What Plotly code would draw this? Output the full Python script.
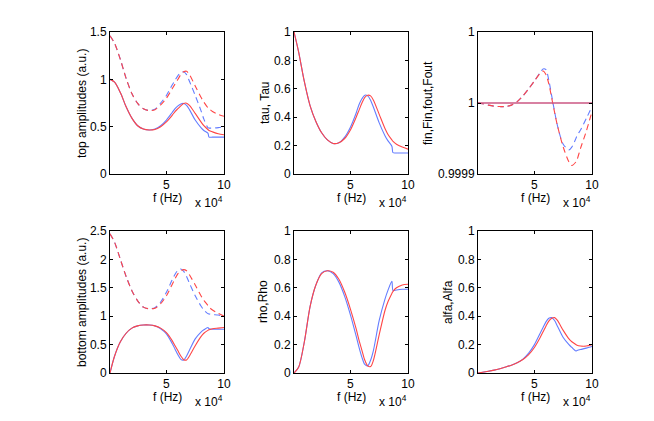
import plotly.graph_objects as go

# frequency samples (Hz)
f = [1000, 5000, 10000, 15000, 20000, 25000, 30000, 35000, 40000, 45000, 50000,
     55000, 57500, 60000, 62500, 65000, 67500, 70000, 75000, 80000, 82500,
     86000, 87000, 90000, 95000, 100000]

# top amplitudes
top_solid_b = [1.0, 0.97, 0.86, 0.71, 0.59, 0.51, 0.475, 0.465, 0.475, 0.51, 0.57,
               0.65, 0.69, 0.72, 0.74, 0.745, 0.725, 0.68, 0.57, 0.49, 0.46,
               0.432, 0.39, 0.39, 0.39, 0.39]
top_solid_r = [1.0, 0.97, 0.86, 0.71, 0.59, 0.51, 0.475, 0.465, 0.47, 0.50, 0.55,
               0.62, 0.66, 0.69, 0.72, 0.745, 0.748, 0.725, 0.64, 0.55, 0.51,
               0.47, 0.46, 0.445, 0.425, 0.415]
top_dash_b = [1.46, 1.38, 1.21, 1.01, 0.85, 0.745, 0.69, 0.67, 0.685, 0.75, 0.83,
              0.94, 0.99, 1.04, 1.07, 1.08, 1.05, 0.98, 0.83, 0.67, 0.58,
              0.49, 0.485, 0.485, 0.49, 0.50]
top_dash_r = [1.46, 1.38, 1.21, 1.01, 0.85, 0.745, 0.69, 0.67, 0.68, 0.73, 0.80,
              0.90, 0.95, 1.0, 1.05, 1.08, 1.085, 1.05, 0.93, 0.81, 0.76,
              0.70, 0.69, 0.66, 0.63, 0.61]

# tau, Tau
tau_b = [1.0, 0.86, 0.65, 0.48, 0.37, 0.29, 0.24, 0.215, 0.22, 0.26, 0.33,
         0.43, 0.49, 0.53, 0.555, 0.55, 0.52, 0.47, 0.36, 0.27, 0.235,
         0.195, 0.15, 0.148, 0.148, 0.148]
tau_r = [1.0, 0.86, 0.65, 0.48, 0.37, 0.29, 0.24, 0.215, 0.22, 0.25, 0.31,
         0.40, 0.45, 0.50, 0.54, 0.555, 0.55, 0.52, 0.42, 0.32, 0.28,
         0.24, 0.23, 0.21, 0.19, 0.175]

# fin, Fin (dashed) and fout, Fout (solid), deviation from 1 in units of 1e-4
fin_b = [0.0, -0.01, -0.03, -0.045, -0.05, -0.05, -0.03, 0.02, 0.1, 0.2, 0.31,
         0.43, 0.48, 0.47, 0.32, 0.1, -0.12, -0.32, -0.58, -0.66, -0.62,
         -0.5, -0.46, -0.38, -0.22, -0.05]
fin_r = [0.0, -0.01, -0.03, -0.045, -0.05, -0.05, -0.03, 0.02, 0.1, 0.2, 0.31,
         0.42, 0.45, 0.40, 0.27, 0.07, -0.13, -0.32, -0.62, -0.83, -0.88,
         -0.83, -0.80, -0.64, -0.40, -0.12]
fout = [0.0] * len(f)

# bottom amplitudes
bot_solid_b = [0.0, 0.3, 0.55, 0.70, 0.79, 0.83, 0.845, 0.845, 0.83, 0.78, 0.69,
               0.52, 0.42, 0.32, 0.24, 0.23, 0.30, 0.40, 0.60, 0.72, 0.76,
               0.80, 0.78, 0.77, 0.77, 0.77]
bot_solid_r = [0.0, 0.3, 0.55, 0.70, 0.79, 0.83, 0.845, 0.845, 0.83, 0.79, 0.71,
               0.57, 0.48, 0.39, 0.30, 0.235, 0.23, 0.30, 0.48, 0.64, 0.70,
               0.75, 0.76, 0.78, 0.79, 0.80]
bot_dash_b = [2.45, 2.3, 2.0, 1.7, 1.45, 1.27, 1.16, 1.13, 1.15, 1.25, 1.42,
              1.64, 1.74, 1.81, 1.83, 1.79, 1.70, 1.58, 1.36, 1.18, 1.11,
              1.045, 1.04, 1.03, 1.02, 1.0]
bot_dash_r = [2.45, 2.3, 2.0, 1.7, 1.45, 1.27, 1.16, 1.13, 1.14, 1.22, 1.36,
              1.56, 1.66, 1.75, 1.80, 1.82, 1.80, 1.73, 1.55, 1.36, 1.28,
              1.19, 1.16, 1.11, 1.05, 1.0]

# rho, Rho
rho_b = [0.0, 0.04, 0.22, 0.47, 0.62, 0.705, 0.72, 0.70, 0.64, 0.54, 0.41,
         0.26, 0.18, 0.11, 0.06, 0.05, 0.09, 0.16, 0.37, 0.52, 0.58,
         0.645, 0.58, 0.585, 0.59, 0.59]
rho_r = [0.0, 0.04, 0.22, 0.47, 0.62, 0.70, 0.72, 0.71, 0.66, 0.57, 0.45,
         0.31, 0.23, 0.16, 0.09, 0.05, 0.045, 0.09, 0.27, 0.44, 0.50,
         0.56, 0.575, 0.60, 0.62, 0.625]

# alfa, Alfa
alfa_b = [0.0, 0.005, 0.012, 0.02, 0.03, 0.042, 0.055, 0.072, 0.098, 0.14, 0.20,
          0.28, 0.32, 0.36, 0.385, 0.39, 0.37, 0.33, 0.25, 0.20, 0.18,
          0.155, 0.158, 0.165, 0.175, 0.187]
alfa_r = [0.0, 0.005, 0.012, 0.02, 0.03, 0.042, 0.055, 0.072, 0.095, 0.13, 0.18,
          0.25, 0.29, 0.33, 0.365, 0.385, 0.39, 0.37, 0.30, 0.24, 0.22,
          0.20, 0.195, 0.19, 0.19, 0.20]

ylabels = ["top amplitudes (a.u.)", "tau, Tau", "fin,Fin,fout,Fout",
           "bottom amplitudes (a.u.)", "rho,Rho", "alfa,Alfa"]

BLUE = "rgb(100,125,255)"
RED = "rgb(255,70,70)"
W, H = 654, 421

# axes boxes in pixels (left, right, top, bottom)
cols = [(110, 224), (294, 408), (478, 592)]
rows = [(32, 174), (231, 373)]

fig = go.Figure()
font = dict(family="Liberation Sans, Arial, sans-serif", size=12, color="black")


def add(i, y, color, dash="solid"):
    fig.add_trace(go.Scatter(x=f, y=y, mode="lines", xaxis="x%d" % (i + 1) if i else "x",
                             yaxis="y%d" % (i + 1) if i else "y",
                             line=dict(color=color, width=1.1, dash=dash, shape="spline", smoothing=0.8),
                             showlegend=False, hoverinfo="skip"))


DASH = "6px,4px"
add(0, top_dash_b, BLUE, DASH)
add(0, top_dash_r, RED, DASH)
add(0, top_solid_b, BLUE)
add(0, top_solid_r, RED)
add(1, tau_b, BLUE)
add(1, tau_r, RED)
add(2, [1 + v * 1e-4 for v in fin_b], BLUE, DASH)
add(2, [1 + v * 1e-4 for v in fin_r], RED, DASH)
add(2, [1 + v * 1e-4 for v in fout], BLUE)
add(2, [1 + v * 1e-4 for v in fout], RED)
add(3, bot_dash_b, BLUE, DASH)
add(3, bot_dash_r, RED, DASH)
add(3, bot_solid_b, BLUE)
add(3, bot_solid_r, RED)
add(4, rho_b, BLUE)
add(4, rho_r, RED)
add(5, alfa_b, BLUE)
add(5, alfa_r, RED)

yranges = [[0, 1.5], [0, 1], [0.9999, 1.0001], [0, 2.5], [0, 1], [0, 1]]
yticks = [[0, 0.5, 1, 1.5], [0, 0.2, 0.4, 0.6, 0.8, 1], [0.9999, 1, 1.0001],
          [0, 0.5, 1, 1.5, 2, 2.5], [0, 0.2, 0.4, 0.6, 0.8, 1], [0, 0.2, 0.4, 0.6, 0.8, 1]]
ytext = [["0", "0.5", "1", "1.5"], ["0", "0.2", "0.4", "0.6", "0.8", "1"],
         ["0.9999", "1", "1"], ["0", "0.5", "1", "1.5", "2", "2.5"],
         ["0", "0.2", "0.4", "0.6", "0.8", "1"], ["0", "0.2", "0.4", "0.6", "0.8", "1"]]

annotations = []
for i in range(6):
    r, c = divmod(i, 3)
    x0, x1 = cols[c]
    t, b = rows[r]
    sfx = str(i + 1) if i else ""
    axstyle = dict(showline=True, linecolor="black", linewidth=1, mirror="ticks",
                   ticks="inside", ticklen=3, tickcolor="black", showgrid=False,
                   zeroline=False, tickfont=font, automargin=False)
    fig.layout["xaxis" + sfx] = dict(domain=[x0 / W, x1 / W], range=[1000, 100000],
                                     anchor="y" + sfx, tickvals=[50000, 100000],
                                     ticktext=["5", "10"], **axstyle)
    fig.layout["yaxis" + sfx] = dict(domain=[1 - b / H, 1 - t / H], range=yranges[i],
                                     anchor="x" + sfx, tickvals=yticks[i],
                                     ticktext=ytext[i], **axstyle)
    annotations.append(dict(text="f (Hz)", x=(x0 + x1) / 2 / W, y=1 - (b + 24) / H,
                            xref="paper", yref="paper", showarrow=False, font=font,
                            xanchor="center", yanchor="middle"))
    annotations.append(dict(text="x 10<sup>4</sup>", x=(x1 + 1) / W, y=1 - (b + 28) / H,
                            xref="paper", yref="paper", showarrow=False, font=font,
                            xanchor="right", yanchor="middle"))

ytitle_x = [82, 265, 428, 82, 263, 448]
for i in range(6):
    r, c = divmod(i, 3)
    t, b = rows[r]
    annotations.append(dict(text=ylabels[i], x=ytitle_x[i] / W, y=1 - (t + b) / 2 / H,
                            xref="paper", yref="paper", showarrow=False, font=font,
                            textangle=-90, xanchor="center", yanchor="middle"))

fig.update_layout(template="none", width=W, height=H, margin=dict(l=0, r=0, t=0, b=0, pad=0),
                  paper_bgcolor="white", plot_bgcolor="white",
                  annotations=annotations, font=font, showlegend=False)

# drop the browser's default 8px page margin so the figure sits at (0, 0)
fig.write_html("out.html", config={"displayModeBar": False},
               post_script="document.body.style.margin='0';")
